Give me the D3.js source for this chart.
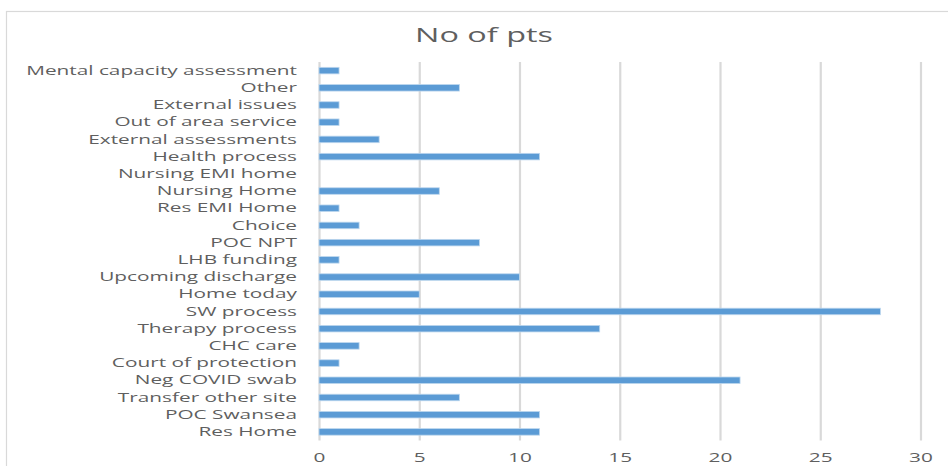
<!DOCTYPE html>
<html><head><meta charset="utf-8">
<script src="https://cdn.jsdelivr.net/npm/d3@7"></script>
<style>html,body{margin:0;padding:0;background:#fff;overflow:hidden}</style>
</head><body><svg id="c" width="948" height="466"></svg>
<script>
const categories = ["Mental capacity assessment","Other","External issues","Out of area service","External assessments","Health process","Nursing EMI home","Nursing Home","Res EMI Home","Choice","POC NPT","LHB funding","Upcoming discharge","Home today","SW process","Therapy process","CHC care","Court of protection","Neg COVID swab","Transfer other site","POC Swansea","Res Home"];
const values = [1,7,1,1,3,11,0,6,1,2,8,1,10,5,28,14,2,1,21,7,11,11];
const xTicks = [0,5,10,15,20,25,30];
const title = "No of pts";

const svg = d3.select("#c");
const font = "'Open Sans', Lato, sans-serif";
const txt = "#5f5f5f";
const sx = 1.6;

svg.append("rect").attr("x",6.5).attr("y",11.5).attr("width",1000).attr("height",500)
  .attr("fill","#fff").attr("stroke","#d9d9d9").attr("stroke-width",1.2);

svg.append("g").attr("transform","translate(484,42)")
  .append("text").attr("text-anchor","middle").attr("transform","scale(1.58,1)")
  .attr("font-family",font).attr("font-size",20.5).attr("fill",txt).text(title);

const x = d3.scaleLinear().domain([0,30]).range([319,920.5]);
const y = d3.scaleBand().domain(categories).range([62,440.5]).paddingInner(0.62).paddingOuter(0.31);

const xAxis = svg.append("g").attr("transform","translate(0,440.5)")
  .call(d3.axisBottom(x).tickValues(xTicks).tickSize(0).tickPadding(0));
xAxis.select(".domain").remove();
xAxis.selectAll(".tick line").attr("y2",-(440.5-62)).attr("stroke","#d9d9d9").attr("stroke-width",2.2);
xAxis.selectAll(".tick text").attr("y",12.5).attr("transform",`scale(${sx},1)`)
  .attr("font-family",font).attr("font-size",13).attr("fill",txt);

svg.append("g").selectAll("rect").data(categories).join("rect")
  .attr("x",x(0)).attr("y",d=>y(d))
  .attr("width",(d,i)=>x(values[i])-x(0)).attr("height",y.bandwidth())
  .attr("fill","#5b9bd5").attr("stroke","#bdd7ee").attr("stroke-width",0.8)
  .style("display",(d,i)=>values[i]===0?"none":null);

const yAxis = svg.append("g").attr("transform","translate(297,0)")
  .call(d3.axisLeft(y).tickSize(0).tickPadding(0));
yAxis.select(".domain").remove();
yAxis.selectAll(".tick text").attr("transform",`scale(${sx},1)`)
  .attr("font-family",font).attr("font-size",13).attr("fill",txt);
</script></body></html>
